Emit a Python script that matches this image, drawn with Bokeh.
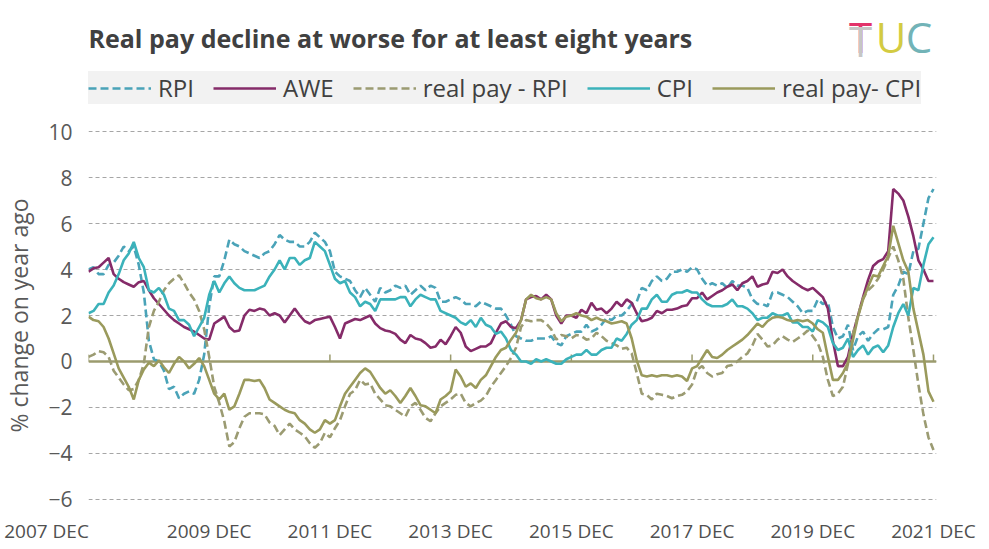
from bokeh.plotting import figure
from bokeh.layouts import column
from bokeh.models import FixedTicker, Legend, LegendItem, Label, Span, Range1d
from bokeh.embed import file_html
from bokeh.resources import INLINE

# Monthly data, 2007 DEC .. 2021 DEC (169 months)
rpi = [4.0,
       4.1, 3.8, 3.8, 4.2, 4.3, 4.6, 5.0, 4.8, 5.0, 4.2, 3.0, 0.9,
       0.1, 0.0, -0.4, -1.2, -1.1, -1.6, -1.4, -1.3, -1.4, -0.8, 0.3, 2.4,
       3.7, 3.7, 4.4, 5.3, 5.1, 5.0, 4.8, 4.7, 4.6, 4.5, 4.7, 4.8,
       5.1, 5.5, 5.3, 5.2, 5.2, 5.0, 5.0, 5.2, 5.6, 5.4, 5.2, 4.8,
       3.9, 3.7, 3.6, 3.5, 3.1, 2.8, 3.2, 2.9, 2.6, 3.2, 3.0, 3.1,
       3.3, 3.2, 3.3, 2.9, 3.1, 3.3, 3.1, 3.3, 3.2, 2.6, 2.6, 2.7,
       2.8, 2.7, 2.5, 2.5, 2.4, 2.6, 2.5, 2.4, 2.3, 2.3, 2.0, 1.6,
       1.1, 1.0, 0.9, 0.9, 1.0, 1.0, 1.0, 1.1, 0.8, 0.7, 1.1, 1.2,
       1.3, 1.3, 1.6, 1.3, 1.4, 1.6, 1.9, 1.8, 2.0, 2.0, 2.2, 2.5,
       2.6, 3.2, 3.1, 3.5, 3.7, 3.5, 3.6, 3.9, 3.9, 4.0, 3.9, 4.1,
       4.0, 3.6, 3.3, 3.4, 3.3, 3.4, 3.2, 3.5, 3.3, 3.3, 3.2, 2.7,
       2.5, 2.5, 2.4, 3.0, 3.0, 2.9, 2.8, 2.6, 2.4, 2.1, 2.2, 2.2,
       2.7, 2.5, 2.6, 1.5, 1.0, 1.1, 1.6, 0.5, 1.1, 1.3, 0.9, 1.2,
       1.4, 1.4, 1.5, 2.9, 3.3, 3.9, 3.8, 4.8, 4.9, 6.0, 7.1, 7.5]

awe = [3.9,
       4.05, 4.1, 4.3, 4.5, 3.8, 3.6, 3.45, 3.35, 3.25, 3.45, 3.5, 3.1,
       2.75, 2.5, 2.25, 2.0, 1.8, 1.65, 1.5, 1.4, 1.3, 1.15, 1.0, 0.95,
       1.65, 1.8, 1.95, 1.5, 1.3, 1.35, 2.0, 2.25, 2.2, 2.3, 2.25, 2.0,
       2.1, 2.0, 1.7, 2.0, 2.3, 2.0, 1.75, 1.65, 1.8, 1.85, 1.9, 1.95,
       1.5, 1.0, 1.65, 1.75, 1.85, 1.8, 1.9, 2.0, 1.65, 1.45, 1.35, 1.3,
       1.2, 0.95, 0.8, 1.15, 1.0, 0.95, 0.8, 0.6, 0.65, 0.95, 0.75, 1.1,
       1.5, 1.25, 0.65, 0.45, 0.55, 0.65, 0.65, 0.8, 1.25, 1.65, 1.75, 1.5,
       1.45, 1.8, 2.7, 2.8, 2.85, 2.7, 2.9, 2.7, 2.0, 1.65, 2.0, 2.0,
       1.9, 2.25, 2.1, 2.55, 2.25, 2.3, 2.1, 2.3, 2.6, 2.4, 2.7, 2.55,
       2.1, 1.75, 1.8, 1.9, 2.2, 2.1, 2.25, 2.25, 2.3, 2.4, 2.45, 2.75,
       2.75, 3.0, 2.7, 2.85, 3.0, 3.1, 3.25, 3.35, 3.1, 3.4, 3.5, 3.7,
       3.25, 3.35, 3.4, 3.9, 3.85, 4.0, 3.7, 3.5, 3.35, 3.2, 3.1, 3.2,
       3.0, 2.8, 2.3, 0.9, -0.2, -0.2, 0.2, 1.2, 2.0, 2.8, 3.55, 4.15,
       4.35, 4.45, 4.8, 7.5, 7.3, 7.0, 6.3, 5.45, 4.4, 4.0, 3.5, 3.5]

real_pay_rpi = [0.2,
       0.3, 0.45, 0.4, 0.2, -0.4, -0.7, -1.0, -1.25, -1.2, -0.8, -0.1, 1.5,
       2.2, 2.6, 3.1, 3.4, 3.6, 3.75, 3.4, 3.0, 2.7, 2.2, 1.4, 0.2,
       -1.1, -1.8, -2.6, -3.7, -3.5, -2.9, -2.4, -2.25, -2.25, -2.25, -2.3, -2.65,
       -2.8, -3.2, -2.95, -2.7, -2.95, -3.1, -3.25, -3.55, -3.75, -3.55, -3.1, -3.3,
       -2.9, -2.55, -1.95, -1.4, -1.25, -0.8, -1.0, -0.95, -1.4, -1.65, -1.9, -1.95,
       -2.1, -2.25, -2.4, -1.95, -1.8, -2.1, -2.45, -2.6, -2.25, -1.95, -1.8, -1.65,
       -1.45, -1.4, -1.8, -1.95, -1.8, -1.7, -1.5, -1.1, -0.8, -0.5, -0.2, 0.15,
       0.6, 1.5, 1.8, 1.75, 1.8, 1.8, 1.65, 1.4, 0.95, 1.15, 1.1, 1.0,
       1.15, 1.1, 0.95, 1.0, 1.25, 1.1, 0.9, 0.8, 0.7, 0.55, 0.6, 0.35,
       -0.5, -1.4, -1.45, -1.65, -1.4, -1.45, -1.5, -1.6, -1.5, -1.45, -1.3, -1.0,
       -0.35, -0.2, -0.5, -0.65, -0.55, -0.5, -0.2, -0.15, 0.0, 0.2, 0.35, 0.7,
       1.2, 0.95, 0.65, 0.7, 0.95, 1.1, 0.95, 0.85, 1.0, 1.15, 1.35, 1.1,
       0.8, 0.2, -0.8, -1.5, -1.4, -1.1, -0.1, 1.2, 2.0, 2.75, 3.1, 3.3,
       3.6, 4.0, 4.5, 5.0, 4.4, 3.6, 1.9, 0.5, -1.0, -2.3, -3.3, -3.85]

cpi = [2.1,
       2.2, 2.5, 2.5, 3.0, 3.3, 3.8, 4.4, 4.7, 5.2, 4.5, 4.1, 3.1,
       3.0, 3.2, 2.9, 2.3, 2.2, 1.8, 1.8, 1.6, 1.1, 1.5, 1.9, 2.9,
       3.5, 3.0, 3.4, 3.7, 3.4, 3.2, 3.1, 3.1, 3.1, 3.2, 3.3, 3.7,
       4.0, 4.4, 4.0, 4.5, 4.5, 4.2, 4.4, 4.5, 5.2, 5.0, 4.8, 4.2,
       3.6, 3.4, 3.5, 3.0, 2.8, 2.4, 2.6, 2.5, 2.2, 2.7, 2.7, 2.7,
       2.7, 2.8, 2.8, 2.4, 2.7, 2.9, 2.8, 2.7, 2.7, 2.2, 2.1, 2.0,
       1.9, 1.7, 1.6, 1.8, 1.5, 1.9, 1.6, 1.5, 1.2, 1.3, 1.0, 0.5,
       0.3, 0.0, 0.0, -0.1, 0.1, 0.0, 0.1, 0.0, -0.1, -0.1, 0.1, 0.2,
       0.3, 0.3, 0.5, 0.3, 0.3, 0.5, 0.6, 0.6, 1.0, 0.9, 1.2, 1.6,
       1.8, 2.3, 2.3, 2.7, 2.9, 2.6, 2.6, 2.9, 3.0, 3.0, 3.1, 3.0,
       3.0, 2.7, 2.5, 2.4, 2.4, 2.4, 2.5, 2.7, 2.4, 2.4, 2.3, 2.1,
       1.8, 1.9, 1.9, 2.1, 2.0, 2.0, 2.1, 1.7, 1.7, 1.5, 1.5, 1.3,
       1.8, 1.7, 1.5, 0.8, 0.5, 0.6, 1.0, 0.2, 0.5, 0.7, 0.3, 0.6,
       0.7, 0.4, 0.7, 1.5, 2.1, 2.5, 2.0, 3.2, 3.1, 4.2, 5.1, 5.4]

real_pay_cpi = [1.95,
       1.8, 1.75, 1.5, 1.0, 0.35, -0.3, -0.7, -1.1, -1.65, -0.8, -0.35, -0.05,
       -0.2, 0.05, -0.25, -0.5, -0.1, 0.2, 0.0, -0.3, -0.1, 0.15, -0.2, -0.8,
       -1.4, -1.65, -1.4, -2.1, -1.95, -1.4, -0.8, -0.8, -0.85, -0.8, -1.15, -1.65,
       -1.8, -1.95, -2.1, -2.2, -2.25, -2.55, -2.7, -2.95, -3.1, -2.95, -2.55, -2.7,
       -2.55, -1.95, -1.4, -1.1, -0.8, -0.5, -0.3, -0.45, -0.8, -1.15, -1.4, -1.25,
       -1.5, -1.8, -1.5, -1.15, -1.5, -1.9, -1.95, -2.1, -2.25, -1.65, -1.5, -1.3,
       -0.35, -0.65, -1.1, -0.95, -1.15, -0.8, -0.6, -0.2, 0.2, 0.5, 0.6, 0.95,
       1.25, 1.8, 2.7, 2.9, 2.75, 2.7, 2.8, 2.7, 2.1, 1.75, 1.95, 2.0,
       2.1, 2.0, 1.95, 1.8, 1.9, 1.8, 1.75, 1.65, 1.7, 1.75, 1.65, 1.0,
       0.05, -0.6, -0.65, -0.6, -0.65, -0.6, -0.6, -0.65, -0.6, -0.65, -0.85, -0.3,
       -0.2, 0.15, 0.5, 0.2, 0.15, 0.3, 0.5, 0.65, 0.8, 0.95, 1.15, 1.4,
       1.65, 1.5, 1.75, 1.9, 1.95, 1.9, 1.8, 1.75, 1.8, 1.75, 1.8, 1.65,
       1.4, 1.25, 0.2, -0.8, -0.8, -0.5, -0.05, 0.95, 1.95, 2.7, 3.25, 3.75,
       3.7, 4.15, 4.6, 5.9, 5.15, 4.4, 3.9, 2.3, 1.3, 0.3, -1.3, -1.75]

months = list(range(len(rpi)))

tick_months = [0, 24, 48, 72, 96, 120, 144, 168]
tick_labels = ["2007 DEC", "2009 DEC", "2011 DEC", "2013 DEC",
               "2015 DEC", "2017 DEC", "2019 DEC", "2021 DEC"]
y_ticks = [-6, -4, -2, 0, 2, 4, 6, 8, 10]

FONT = "Open Sans"
TXT = "#404040"
C_RPI, C_AWE, C_RRPI, C_CPI, C_RCPI = "#4aa3b8", "#852b69", "#9b9b72", "#3bb2ba", "#9a9a5c"
DASH = "8 4"
W = 2.6
NAN = float("nan")

# ---------------- header: title, logo, legend ----------------
HDR_H = 113
hdr = figure(width=973, height=HDR_H, output_backend="svg", toolbar_location=None,
             x_range=Range1d(92, 940), y_range=Range1d(0, HDR_H),
             x_axis_location=None, y_axis_location=None,
             min_border=0, min_border_left=84, min_border_right=33,
             min_border_top=0, min_border_bottom=0)
hdr.outline_line_color = None
hdr.grid.visible = False
hdr.background_fill_color = "white"
hdr.border_fill_color = "white"

hdr.add_layout(Label(x=92, y=HDR_H - 37, text="Real pay decline at worse for at least eight years",
                     text_font=FONT, text_font_size="25px", text_font_style="bold",
                     text_color=TXT, text_baseline="alphabetic"))
# TUC logo: T with a red top bar, U yellow, C teal
LOGO_Y = HDR_H - 36
for letter, xx, yy, col in [("T", 856, LOGO_Y, "#e2336a"), ("T", 856, LOGO_Y - 3.5, "#c6c6c6"),
                            ("U", 883, LOGO_Y, "#d3cb42"), ("C", 913, LOGO_Y, "#72b3b7")]:
    hdr.add_layout(Label(x=xx, y=yy, text=letter, text_font=FONT, text_font_size="42px",
                         text_color=col, text_baseline="alphabetic"))

h_rpi = hdr.line(x=[NAN], y=[NAN], line_color=C_RPI, line_width=W, line_dash=DASH)
h_awe = hdr.line(x=[NAN], y=[NAN], line_color=C_AWE, line_width=W)
h_rrpi = hdr.line(x=[NAN], y=[NAN], line_color=C_RRPI, line_width=W, line_dash=DASH)
h_cpi = hdr.line(x=[NAN], y=[NAN], line_color=C_CPI, line_width=W)
h_rcpi = hdr.line(x=[NAN], y=[NAN], line_color=C_RCPI, line_width=W)

legend = Legend(items=[
    LegendItem(label="RPI", renderers=[h_rpi]),
    LegendItem(label="AWE", renderers=[h_awe]),
    LegendItem(label="real pay - RPI", renderers=[h_rrpi]),
    LegendItem(label="CPI", renderers=[h_cpi]),
    LegendItem(label="real pay- CPI", renderers=[h_rcpi]),
], orientation="horizontal", location=(0, HDR_H - 104))
legend.background_fill_color = "#f2f2f2"
legend.background_fill_alpha = 1.0
legend.border_line_color = None
legend.label_text_font = FONT
legend.label_text_font_size = "24px"
legend.label_text_color = TXT
legend.glyph_width = 63
legend.glyph_height = 20
legend.label_standoff = 7
legend.spacing = 19
legend.padding = 10
legend.margin = 0
hdr.add_layout(legend)

# ---------------- main chart ----------------
p = figure(frame_width=848, frame_height=372, output_backend="svg", toolbar_location=None,
           x_range=Range1d(0, 168.6), y_range=Range1d(-6.087, 10.087),
           min_border_left=84, min_border_right=41, min_border_top=16,
           min_border_bottom=20)
p.outline_line_color = None
p.background_fill_color = "white"
p.border_fill_color = "white"

p.xaxis.ticker = FixedTicker(ticks=tick_months)
overrides = {m: lab for m, lab in zip(tick_months, tick_labels)}
overrides[0] = tick_labels[0] + "\u00a0" * 17
p.xaxis.major_label_overrides = overrides
p.xaxis.axis_line_color = None
p.xaxis.major_tick_line_color = None
p.xaxis.minor_tick_line_color = None
p.xaxis.major_tick_out = 0
p.xaxis.major_tick_in = 0
p.xaxis.major_label_standoff = 16
p.xaxis.major_label_text_line_height = 0.9
p.xaxis.major_label_text_font = FONT
p.xaxis.major_label_text_font_size = "19px"
p.xaxis.major_label_text_color = "#505050"

p.yaxis.ticker = FixedTicker(ticks=y_ticks)
p.yaxis.axis_line_color = None
p.yaxis.major_tick_line_color = None
p.yaxis.minor_tick_line_color = None
p.yaxis.major_tick_out = 0
p.yaxis.major_tick_in = 0
p.yaxis.major_label_standoff = 16
p.yaxis.major_label_text_font = FONT
p.yaxis.major_label_text_font_size = "21px"
p.yaxis.major_label_text_color = "#595959"
p.yaxis.axis_label = "% change on year ago"
p.yaxis.axis_label_text_font = FONT
p.yaxis.axis_label_text_font_size = "23px"
p.yaxis.axis_label_text_font_style = "normal"
p.yaxis.axis_label_text_color = "#595959"
p.yaxis.axis_label_standoff = 10

p.xgrid.grid_line_color = None
p.ygrid.ticker = FixedTicker(ticks=y_ticks)
p.ygrid.grid_line_color = "#a6a6a6"
p.ygrid.grid_line_dash = "4 3"
p.ygrid.grid_line_width = 1

p.add_layout(Span(location=0, dimension="width", line_color="#9b9b6e", line_width=2.5,
                  level="underlay"))
p.segment(x0=tick_months, y0=[0] * len(tick_months), x1=tick_months,
          y1=[0.3] * len(tick_months), line_color="#9b9b6e", line_width=1.5)

p.line(months, rpi, line_color=C_RPI, line_width=W, line_dash=DASH)
p.line(months, awe, line_color=C_AWE, line_width=W)
p.line(months, real_pay_rpi, line_color=C_RRPI, line_width=W, line_dash=DASH)
p.line(months, cpi, line_color=C_CPI, line_width=W)
p.line(months, real_pay_cpi, line_color=C_RCPI, line_width=W)

layout = column(hdr, p, spacing=0)
open("out.html", "w").write(file_html(layout, INLINE))
